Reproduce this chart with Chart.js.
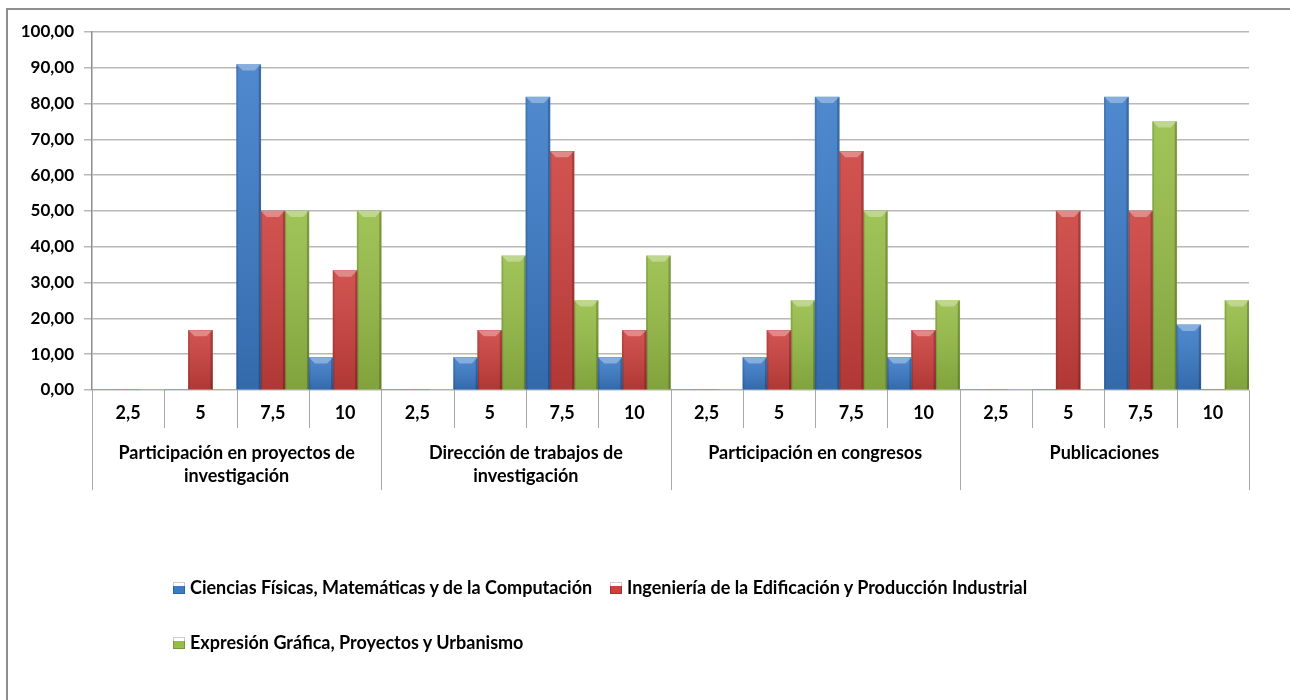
<!DOCTYPE html>
<html>
<head>
<meta charset="utf-8">
<script src="https://cdn.jsdelivr.net/npm/chart.js@4.4.0/dist/chart.umd.min.js"></script>
<style>
body{margin:0;background:#fff;}
#wrap{position:relative;width:1290px;height:700px;overflow:hidden;}
#frame{position:absolute;left:6px;top:8px;width:1400px;height:800px;border-left:2px solid #8e8e8e;border-top:2px solid #8e8e8e;}
#chart{position:absolute;left:0;top:0;}
.item{position:absolute;font:bold 18px Lato,sans-serif;color:#000;white-space:nowrap;line-height:22px;}
.box{display:inline-block;width:12px;height:12px;margin-right:5px;vertical-align:0px;}
</style>
</head>
<body>
<div id="wrap">
<div id="frame"></div>
<canvas id="chart" width="1290" height="700"></canvas>
<div id="legend"></div>
</div>
<script>
// grupos y subcategorías
const groups = [
  ["Participación en proyectos de","investigación"],
  ["Dirección de trabajos de","investigación"],
  "Participación en congresos",
  "Publicaciones"
]
const subs = ["2,5","5","7,5","10"]

const seriesNames = [
  "Ciencias Físicas, Matemáticas y de la Computación",
  "Ingeniería de la Edificación y Producción Industrial",
  "Expresión Gráfica, Proyectos y Urbanismo"
]

const ciencias   = [0,0,90.91,9.09,  0,9.09,81.82,9.09,   0,9.09,81.82,9.09,   0,0,81.82,18.18]
const ingenieria = [0,16.67,50,33.33, 0,16.67,66.67,16.67, 0,16.67,66.67,16.67, 0,50,50,0]
const expresion  = [0,0,50,50,       0,37.5,25,37.5,      0,25,50,25,          0,0,75,25]

const colors = ["#3b7bc8","#cc403d","#96bd46"]

const labels = []
groups.forEach(()=>subs.forEach(s=>labels.push(s)))

const font = {family:"Lato", weight:"bold", size:18}

/* ===== líneas separadoras del eje x ===== */
const separators = {
  id:"separators",
  afterDraw(chart){
    const {ctx, chartArea, scales:{x}} = chart
    const n = x.ticks.length
    const w = (x.right - x.left)/n
    ctx.save()
    ctx.strokeStyle = "#a8a8a8"
    ctx.lineWidth = 1
    for(let i=0;i<=n;i++){
      const px = Math.round(i<n ? x.getPixelForTick(i)-w/2 : x.getPixelForTick(n-1)+w/2)+0.5
      const len = i%subs.length===0 ? 100 : 38
      ctx.beginPath()
      ctx.moveTo(px, chartArea.bottom)
      ctx.lineTo(px, chartArea.bottom+len)
      ctx.stroke()
    }
    ctx.restore()
  }
}

/* ===== efecto bisel ===== */
const bevel = {
  id:"bevel",
  afterDatasetsDraw(chart){
    const ctx = chart.ctx
    ctx.save()
    chart.data.datasets.forEach((ds,di)=>{
      chart.getDatasetMeta(di).data.forEach((bar,i)=>{
        if(!ds.data[i]) return
        const {x,y,base,width} = bar.getProps(["x","y","base","width"],true)
        const l = x-width/2, r = x+width/2, h = base-y
        const g = ctx.createLinearGradient(0,y,0,base)
        g.addColorStop(0,"rgba(255,255,255,0.10)")
        g.addColorStop(1,"rgba(0,0,0,0.14)")
        ctx.fillStyle = g
        ctx.fillRect(l,y,width,h)
        ctx.fillStyle = "rgba(0,0,0,0.22)"
        ctx.fillRect(r-2,y,2,h)
        ctx.fillStyle = "rgba(0,0,0,0.12)"
        ctx.fillRect(l,y,1.5,h)
        const b = Math.min(6,h)
        ctx.fillStyle = "rgba(255,255,255,0.32)"
        ctx.beginPath()
        ctx.moveTo(l,y); ctx.lineTo(r,y); ctx.lineTo(r-b,y+b); ctx.lineTo(l+b,y+b)
        ctx.closePath()
        ctx.fill()
      })
    })
    ctx.restore()
  }
}

new Chart(document.getElementById("chart"),{
  type:"bar",
  data:{
    labels:labels,
    datasets:[ciencias,ingenieria,expresion].map((d,i)=>({
      label:seriesNames[i],
      data:d,
      backgroundColor:colors[i],
      borderWidth:0,
      categoryPercentage:1,
      barPercentage:1,
      xAxisID:"x"
    }))
  },
  options:{
    responsive:false,
    animation:false,
    devicePixelRatio:1,
    layout:{padding:{left:0,right:41,top:32,bottom:200}},
    plugins:{legend:{display:false},tooltip:{enabled:false}},
    scales:{
      y:{
        min:0,max:100,
        ticks:{stepSize:10,padding:10,color:"#000",font:{...font,size:17},
          callback:v=>v.toFixed(2).replace(".",",")},
        grid:{color:"#b8b8b8",lineWidth:1.5,tickLength:8},
        border:{color:"#8e8e8e",width:1.5},
        afterFit(s){ s.width = 92 }
      },
      x:{
        weight:0,
        grid:{display:false,drawTicks:false},
        border:{display:false},
        ticks:{autoSkip:false,maxRotation:0,padding:12,color:"#000",font:font},
        afterFit(s){ s.height = 40 }
      },
      x2:{
        type:"category",
        labels:groups,
        position:"bottom",
        offset:true,
        weight:1,
        grid:{display:false,drawTicks:false},
        border:{display:false},
        ticks:{autoSkip:false,maxRotation:0,padding:12,color:"#000",font:{...font,lineHeight:1.25}},
        afterFit(s){ s.height = 70 }
      }
    }
  },
  plugins:[bevel,separators]
})

/* ===== leyenda ===== */
const legendPos = [[173,576],[610,576],[173,631]]
const legend = document.getElementById("legend")
seriesNames.forEach((name,i)=>{
  const el = document.createElement("div")
  el.className = "item"
  el.style.left = legendPos[i][0]+"px"
  el.style.top = legendPos[i][1]+"px"
  const box = document.createElement("span")
  box.className = "box"
  box.style.background = "linear-gradient(180deg, rgba(255,255,255,0.35) 0, rgba(255,255,255,0.35) 30%, "+colors[i]+" 30%, "+colors[i]+" 100%)"
  box.style.boxShadow = "inset 0 0 0 1px rgba(0,0,0,0.2)"
  el.appendChild(box)
  el.appendChild(document.createTextNode(name))
  legend.appendChild(el)
})
</script>
</body>
</html>
